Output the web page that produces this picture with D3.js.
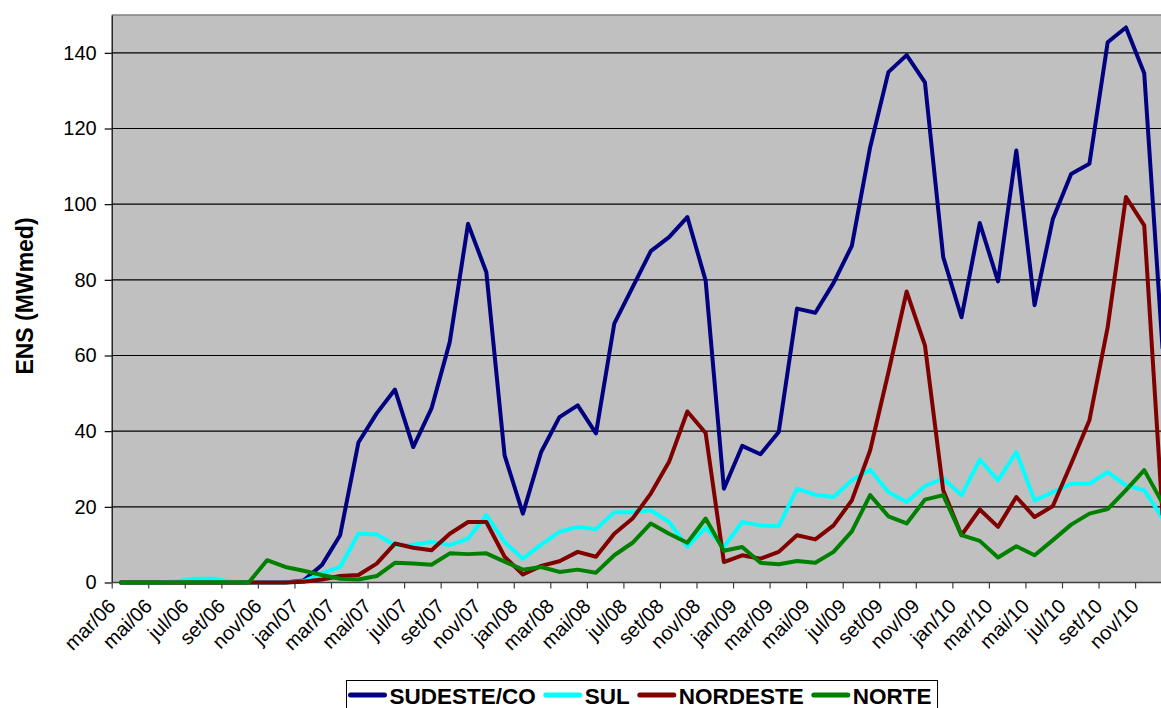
<!DOCTYPE html>
<html>
<head>
<meta charset="utf-8">
<script src="https://cdn.jsdelivr.net/npm/d3@7"></script>
<style>
  body { margin: 0; background: #fff; overflow: hidden; }
  svg { display: block; font-family: "Liberation Sans", Arial, sans-serif; }
</style>
</head>
<body>
<svg id="chart" width="1161" height="708"></svg>
<script>
// Monthly energy not supplied (ENS), MWmed, per subsystem, mar/06 – dez/10
const months = [
  "mar/06","abr/06","mai/06","jun/06","jul/06","ago/06","set/06","out/06","nov/06","dez/06",
  "jan/07","fev/07","mar/07","abr/07","mai/07","jun/07","jul/07","ago/07","set/07","out/07","nov/07","dez/07",
  "jan/08","fev/08","mar/08","abr/08","mai/08","jun/08","jul/08","ago/08","set/08","out/08","nov/08","dez/08",
  "jan/09","fev/09","mar/09","abr/09","mai/09","jun/09","jul/09","ago/09","set/09","out/09","nov/09","dez/09",
  "jan/10","fev/10","mar/10","abr/10","mai/10","jun/10","jul/10","ago/10","set/10","out/10","nov/10","dez/10"
];

const sudesteCO = [
  0, 0, 0, 0, 0, 0, 0, 0, 0, 0,
  0.5, 4.6, 12.5, 37.0, 44.7, 51.0, 35.8, 46.0, 63.6, 94.8, 82.0, 33.6,
  18.2, 34.5, 43.7, 46.8, 39.4, 68.4, 78.0, 87.6, 91.3, 96.6, 79.8, 24.8,
  36.1, 33.9, 39.8, 72.4, 71.3, 79.2, 89.0, 115.0, 134.9, 139.4, 132.2, 86.0,
  70.1, 95.0, 79.6, 114.2, 73.3, 96.1, 108.0, 110.7, 142.8, 146.7, 134.6, 62.0
];

const sul = [
  0, 0, 0, 0.3, 1.0, 1.0, 0.3, 0, 0, 0,
  0.3, 2.4, 4.1, 12.9, 12.7, 9.9, 10.0, 10.7, 9.9, 11.6, 17.8, 10.7,
  6.3, 10.0, 13.4, 14.7, 14.1, 18.6, 18.6, 19.1, 16.0, 9.4, 14.5, 9.4,
  16.0, 15.1, 14.9, 24.8, 23.2, 22.6, 27.0, 29.8, 23.9, 21.3, 25.5, 27.5,
  23.1, 32.5, 27.0, 34.5, 21.7, 23.9, 26.1, 26.1, 29.2, 25.7, 24.4, 17.0
];

const nordeste = [
  0, 0, 0, 0, 0, 0, 0, 0, 0, 0,
  0.2, 0.8, 1.7, 2.0, 5.0, 10.3, 9.2, 8.5, 12.9, 16.0, 16.0, 6.8,
  2.1, 4.4, 5.6, 8.1, 6.8, 12.9, 16.9, 23.5, 31.9, 45.2, 39.5, 5.4,
  7.2, 6.3, 8.1, 12.5, 11.4, 15.1, 21.7, 34.9, 55.5, 76.9, 62.7, 24.4,
  12.5, 19.3, 14.7, 22.6, 17.3, 20.2, 31.4, 42.9, 67.5, 101.9, 94.4, 18.0
];

const norte = [
  0, 0, 0, 0, 0, 0, 0, 0, 5.9, 4.1,
  3.1, 2.0, 1.0, 0.8, 1.7, 5.2, 5.0, 4.7, 7.7, 7.5, 7.7, 5.5,
  3.4, 4.1, 2.8, 3.4, 2.6, 7.2, 10.5, 15.6, 12.9, 10.5, 16.9, 8.4,
  9.4, 5.2, 4.8, 5.7, 5.2, 8.1, 13.5, 23.1, 17.5, 15.6, 21.9, 23.1,
  12.5, 11.0, 6.6, 9.6, 7.2, 11.2, 15.3, 18.2, 19.4, 24.4, 29.7, 21.0
];

const seriesNames = ["SUDESTE/CO", "SUL", "NORDESTE", "NORTE"];
const seriesColors = ["#000080", "#00FFFF", "#800000", "#008000"];
const yTicks = [0, 20, 40, 60, 80, 100, 120, 140];
const yTitle = "ENS (MWmed)";

const series = [sudesteCO, sul, nordeste, norte].map((values, i) => ({
  name: seriesNames[i], color: seriesColors[i], values
}));

// Layout
const W = 1161, H = 708;
const plotLeft = 111.7, plotTop = 15, plotBottom = 582.5, step = 18.275;
const plotRight = plotLeft + months.length * step;

const svg = d3.select("#chart");

const x = d3.scaleBand().domain(months).range([plotLeft, plotRight]).padding(0);
const xEdge = d3.scaleLinear().domain([0, months.length]).range([plotLeft, plotRight]);
const y = d3.scaleLinear().domain([0, 150]).range([plotBottom, plotTop]);

// plot area
svg.append("rect")
  .attr("x", plotLeft).attr("y", plotTop)
  .attr("width", plotRight - plotLeft + 20).attr("height", plotBottom - plotTop)
  .attr("fill", "#C0C0C0");
svg.append("line")
  .attr("x1", plotLeft).attr("x2", W + 20)
  .attr("y1", plotTop).attr("y2", plotTop)
  .attr("stroke", "#808080").attr("stroke-width", 1.5);

// horizontal gridlines
svg.append("g")
  .selectAll("line")
  .data(yTicks.filter(d => d > 0))
  .join("line")
  .attr("x1", plotLeft).attr("x2", W + 20)
  .attr("y1", d => y(d)).attr("y2", d => y(d))
  .attr("stroke", "#000").attr("stroke-width", 1.2);

// y axis
const yAxis = svg.append("g")
  .attr("transform", `translate(${plotLeft},0)`)
  .call(d3.axisLeft(y).tickValues(yTicks).tickSizeInner(7).tickSizeOuter(0).tickPadding(8));
yAxis.select(".domain").attr("stroke", "#000").attr("stroke-width", 1.2);
yAxis.selectAll(".tick line").attr("stroke", "#000").attr("stroke-width", 1.2);
yAxis.selectAll(".tick text")
  .attr("font-size", 20).attr("font-family", "Liberation Sans, Arial, sans-serif").attr("fill", "#000");

// x axis: tick marks at category boundaries every two months
const xTickAxis = svg.append("g")
  .attr("transform", `translate(0,${plotBottom})`)
  .call(d3.axisBottom(xEdge).tickValues(d3.range(0, months.length + 1, 2)).tickFormat("")
    .tickSizeInner(6).tickSizeOuter(0));
xTickAxis.select(".domain")
  .attr("d", `M${plotLeft},0H${W + 20}`)
  .attr("stroke", "#404040").attr("stroke-width", 1.5);
xTickAxis.selectAll(".tick line").attr("stroke", "#404040").attr("stroke-width", 1.2);

// x axis labels, rotated, every other month
const xLabelAxis = svg.append("g")
  .attr("transform", `translate(0,${plotBottom})`)
  .call(d3.axisBottom(x).tickValues(months.filter((m, i) => i % 2 === 0)).tickSize(0));
xLabelAxis.select(".domain").remove();
xLabelAxis.selectAll(".tick text")
  .attr("font-size", 20).attr("font-family", "Liberation Sans, Arial, sans-serif").attr("fill", "#000")
  .attr("x", 0).attr("y", 0).attr("dy", "0.35em")
  .attr("text-anchor", "end")
  .attr("transform", "translate(-9,20) rotate(-45)");

// y axis title
svg.append("text")
  .attr("transform", "translate(33,296) rotate(-90)")
  .attr("text-anchor", "middle")
  .attr("font-size", 23).attr("font-weight", "bold")
  .attr("fill", "#000")
  .text(yTitle);

// series lines
const line = d3.line()
  .x((d, i) => x(months[i]) + x.bandwidth() / 2)
  .y(d => y(d));

svg.append("clipPath").attr("id", "plotClip")
  .append("rect").attr("x", plotLeft).attr("y", 0).attr("width", W).attr("height", plotBottom + 5);

svg.append("g").attr("clip-path", "url(#plotClip)")
  .selectAll("path")
  .data(series)
  .join("path")
  .attr("d", d => line(d.values))
  .attr("fill", "none")
  .attr("stroke", d => d.color)
  .attr("stroke-width", 4)
  .attr("stroke-linejoin", "round")
  .attr("stroke-linecap", "round");

// legend: key line + label, laid out left to right inside a framed box
const legendLeft = 346.5, legendTop = 680.5;
const keyLen = 34, keyGap = 5, itemGap = 10, padL = 4, padR = 6;
const legend = svg.append("g");
const box = legend.append("rect")
  .attr("x", legendLeft).attr("y", legendTop).attr("height", 40)
  .attr("fill", "#fff").attr("stroke", "#000").attr("stroke-width", 1);
let cursor = legendLeft + padL;
series.forEach(s => {
  const item = legend.append("g").attr("transform", `translate(${cursor},0)`);
  item.append("line")
    .attr("x1", 0).attr("x2", keyLen).attr("y1", 695).attr("y2", 695)
    .attr("stroke", s.color).attr("stroke-width", 5).attr("stroke-linecap", "round");
  const t = item.append("text")
    .attr("x", keyLen + keyGap).attr("y", 703.5)
    .attr("font-size", 22.5).attr("font-weight", "bold").attr("fill", "#000")
    .text(s.name);
  cursor += keyLen + keyGap + t.node().getComputedTextLength() + itemGap;
});
box.attr("width", cursor - itemGap + padR - legendLeft);
</script>
</body>
</html>
